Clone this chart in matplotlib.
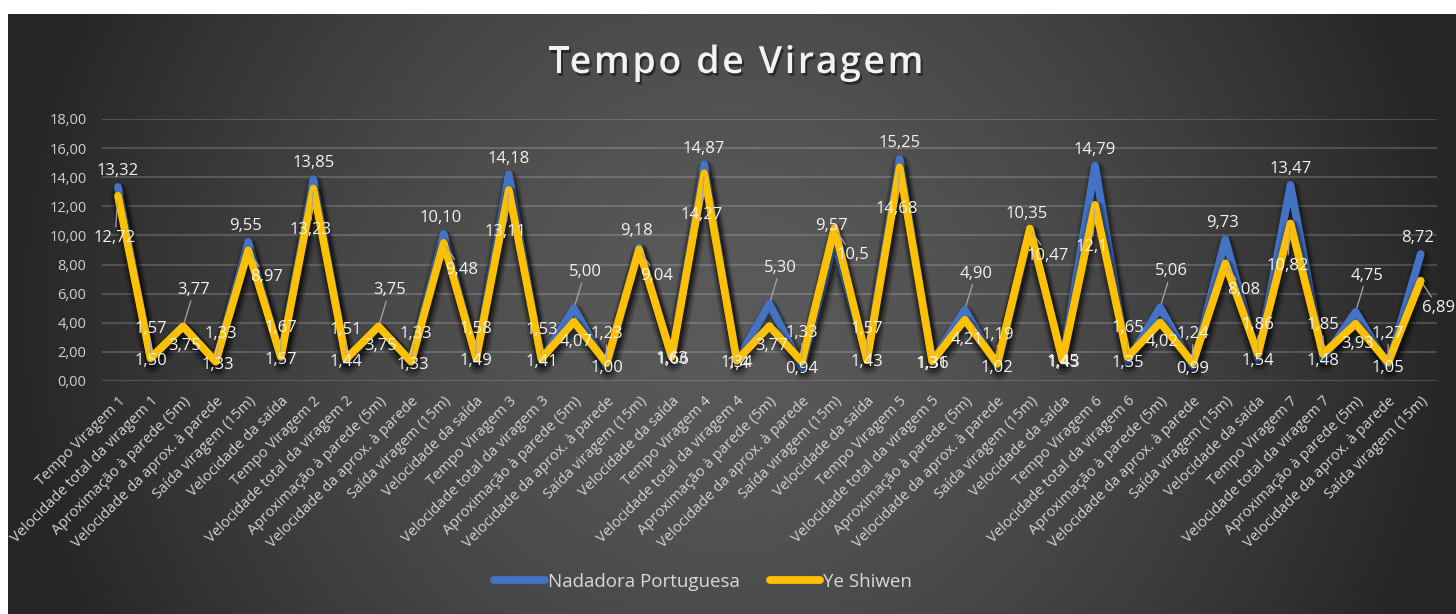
import numpy as np
import matplotlib
matplotlib.use('Agg')
import matplotlib.pyplot as plt
import matplotlib.patheffects as pe
from matplotlib.lines import Line2D

plt.rcParams['font.family'] = ['Open Sans', 'DejaVu Sans']

etapas = ['Tempo Viragem {}', 'Velocidade total da viragem {}',
          'Aproximação à parede (5m)', 'Velocidade da aprox. à parede',
          'Saída viragem (15m)', 'Velocidade da saída']
categorias = [e.format(n) for n in range(1, 8) for e in etapas][:41]

nadadora = [13.32, 1.50, 3.77, 1.33, 9.55, 1.57,
            13.85, 1.44, 3.75, 1.33, 10.10, 1.49,
            14.18, 1.41, 5.00, 1.00, 9.18, 1.63,
            14.87, 1.34, 5.30, 0.94, 9.57, 1.57,
            15.25, 1.31, 4.90, 1.02, 10.35, 1.45,
            14.79, 1.35, 5.06, 0.99, 9.73, 1.54,
            13.47, 1.48, 4.75, 1.05, 8.72]
ye_shiwen = [12.72, 1.57, 3.75, 1.33, 8.97, 1.67,
             13.23, 1.51, 3.75, 1.33, 9.48, 1.58,
             13.11, 1.53, 4.07, 1.23, 9.04, 1.66,
             14.27, 1.40, 3.77, 1.33, 10.5, 1.43,
             14.68, 1.36, 4.21, 1.19, 10.47, 1.43,
             12.1, 1.65, 4.02, 1.24, 8.08, 1.86,
             10.82, 1.85, 3.93, 1.27, 6.89]
series = ['Nadadora Portuguesa', 'Ye Shiwen']
cores = ['#4472C4', '#FFC000']
titulo = 'Tempo de Viragem'

W, H = 1456, 614
fig = plt.figure(figsize=(W / 100, H / 100), dpi=100)
fig.patch.set_facecolor('white')

# fundo com gradiente radial
bg = fig.add_axes([8 / W, 0, (W - 8) / W, (H - 14) / H])
gx, gy = np.meshgrid(np.linspace(-1, 1, 600), np.linspace(-1, 1, 300))
r = np.clip(np.sqrt(gx ** 2 + (gy * 0.42) ** 2), 0, 1)
v = (38 + (90 - 38) * (1 - r ** 1.5)) / 255
bg.imshow(np.dstack([v, v, v]), aspect='auto', extent=(0, 1, 0, 1))
bg.axis('off')

ax = fig.add_axes([101.7 / W, 233 / H, (1437 - 101.7) / W, (495 - 233) / H])
ax.set_facecolor('none')
x = np.arange(len(categorias))


def sombra():
    return [pe.Stroke(linewidth=14, foreground='black', alpha=0.08, offset=(1, -4)),
            pe.Stroke(linewidth=11, foreground='black', alpha=0.14, offset=(1, -3)),
            pe.Stroke(linewidth=8, foreground='black', alpha=0.25, offset=(1, -2)),
            pe.Normal()]


for vals, cor, z in ((nadadora, cores[0], 3), (ye_shiwen, cores[1], 4)):
    ax.plot(x, vals, color=cor, lw=5.6, solid_joinstyle='round',
            solid_capstyle='round', path_effects=sombra(), zorder=z)


def deslocamentos(i):
    k = i % 6
    a, b = nadadora[i], ye_shiwen[i]
    if k == 0:
        return (0, 16), (-3, -42)
    if k == 2:
        return (11, 36), (2, -20)
    if k == 4:
        return (-3, 16), (18, -27)
    if a == b:
        return (5, 28), (2, -3)
    if abs(a - b) < 0.07:
        return (0, -2), (1, -3)
    if b > a:
        return (0, -2), (0, 29)
    return (0, 29), (0, -2)


def fmt_n(v):
    return ('%.2f' % v).replace('.', ',')


def fmt_y(v):
    return ('%.2f' % v).rstrip('0').replace('.', ',')


for i in x:
    d1, d2 = deslocamentos(i)
    for val, d, f in ((nadadora[i], d1, fmt_n), (ye_shiwen[i], d2, fmt_y)):
        seta = None
        if abs(d[1]) > 25:
            seta = dict(arrowstyle='-', color='#A6A6A6', lw=0.9, shrinkA=0, shrinkB=3)
        ax.annotate(f(val), (i, val), xytext=d, textcoords='offset pixels',
                    ha='center', va='center', fontsize=12, color='#F2F2F2',
                    arrowprops=seta, zorder=6)

ax.set_xlim(-0.5, len(categorias) - 0.5)
ax.set_ylim(0, 18)
ax.set_yticks(np.arange(0, 19, 2))
ax.set_yticklabels([fmt_n(t) for t in np.arange(0, 19, 2)], fontsize=10.5, color='#D0D0D0')
ax.set_xticks(x)
ax.set_xticklabels(categorias, rotation=45, ha='right', rotation_mode='anchor',
                   fontsize=10.5, color='#D4D4D4')
ax.tick_params(axis='both', length=0)
ax.tick_params(axis='y', pad=11)
ax.tick_params(axis='x', pad=9)
for s in ax.spines.values():
    s.set_visible(False)
ax.grid(axis='y', color='white', alpha=0.17, lw=1.5)
ax.set_axisbelow(True)

# titulo com espaçamento entre letras
rend = fig.canvas.get_renderer()
estilo = dict(fontsize=27, fontweight='semibold', color='#F2F2F2', va='center', ha='left',
              path_effects=[pe.SimplePatchShadow(offset=(1.5, -2), shadow_rgbFace='black', alpha=0.45),
                            pe.Normal()])
esp = 2.6
larg = []
for k in range(len(titulo)):
    t = fig.text(0, 0, titulo[:k + 1], **estilo)
    larg.append(t.get_window_extent(rend).width)
    t.remove()
total = larg[-1] + esp * (len(titulo) - 1)
x0 = 736 - total / 2
for k, ch in enumerate(titulo):
    if ch == ' ':
        continue
    t = fig.text(0, 0, ch, **estilo)
    wc = t.get_window_extent(rend).width
    t.remove()
    fig.text((x0 + larg[k] - wc + esp * k) / W, 1 - 63 / H, ch, **estilo)

alcas = [Line2D([], [], color=c, lw=5.6, solid_capstyle='round') for c in cores]
fig.legend(alcas, series, loc='center', bbox_to_anchor=(703 / W, 1 - 582 / H), ncol=2,
           frameon=False, fontsize=13.5, labelcolor='#D9D9D9',
           handlelength=2.7, handletextpad=0.15, columnspacing=1.6)

fig.savefig('out.png', dpi=100)
